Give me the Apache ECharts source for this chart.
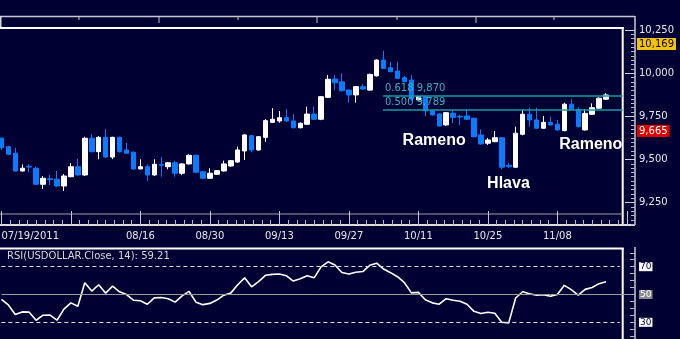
<!DOCTYPE html>
<html><head><meta charset="utf-8">
<script src="https://cdn.jsdelivr.net/npm/echarts@6/dist/echarts.min.js"></script>
<style>html,body{margin:0;padding:0;background:#000033;}#c{width:680px;height:339px;}</style>
</head><body><div id="c"></div>
<script>
// ---- data ----
const dates = [
'07/19/2011','07/20/2011','07/21/2011','07/22/2011','07/25/2011','07/26/2011','07/27/2011','07/28/2011','07/29/2011',
'08/01/2011','08/02/2011','08/03/2011','08/04/2011','08/05/2011','08/08/2011','08/09/2011','08/10/2011','08/11/2011','08/12/2011',
'08/15/2011','08/16/2011','08/17/2011','08/18/2011','08/19/2011','08/22/2011','08/23/2011','08/24/2011','08/25/2011','08/26/2011',
'08/29/2011','08/30/2011','08/31/2011',
'09/01/2011','09/02/2011','09/05/2011','09/06/2011','09/07/2011','09/08/2011','09/09/2011','09/12/2011','09/13/2011','09/14/2011',
'09/15/2011','09/16/2011','09/19/2011','09/20/2011','09/21/2011','09/22/2011','09/23/2011','09/26/2011','09/27/2011','09/28/2011',
'09/29/2011','09/30/2011',
'10/03/2011','10/04/2011','10/05/2011','10/06/2011','10/07/2011','10/10/2011','10/11/2011','10/12/2011','10/13/2011','10/14/2011',
'10/17/2011','10/18/2011','10/19/2011','10/20/2011','10/21/2011','10/24/2011','10/25/2011','10/26/2011','10/27/2011','10/28/2011',
'10/31/2011',
'11/01/2011','11/02/2011','11/03/2011','11/04/2011','11/07/2011','11/08/2011','11/09/2011','11/10/2011','11/11/2011','11/14/2011',
'11/15/2011','11/16/2011','11/17/2011'];
const open = [9623,9574,9536,9433,9460,9449,9356,9388,9385,9346, 9400,9458,9410,9623,9545,9628,9514,9628,9555,9542,
 9445,9458,9410,9470,9458,9481,9420,9474,9524,9429, 9391,9414,9433,9462,9485,9549,9638,9555,9628,9715,
 9723,9742,9723,9684,9704,9763,9733,9860,9966,9950, 9902,9874,9922,9902,9985,10076,10032,10013,9974,9960,
 9845,9864,9783,9764,9700,9768,9750,9752,9739,9642, 9594,9603,9626,9466,9455,9646,9762,9729,9681,9715,
 9704,9667,9820,9791,9671,9762,9797,9849];
const close = [9568,9530,9433,9449,9456,9356,9391,9383,9346,9404, 9458,9410,9623,9545,9628,9514,9628,9545,9536,9445,
 9458,9410,9472,9466,9481,9420,9474,9524,9426,9391, 9420,9435,9474,9493,9555,9642,9555,9632,9725,9733,
 9742,9723,9684,9710,9763,9733,9864,9965,9945,9898, 9874,9922,9908,9993,10076,10028,10009,9970,9951,9850,
 9864,9781,9758,9694,9771,9744,9746,9733,9632,9590, 9613,9626,9455,9458,9652,9762,9729,9681,9715,9700,
 9671,9820,9791,9690,9767,9800,9855,9874];
const low = [9555,9525,9428,9430,9426,9352,9329,9352,9342,9317, 9396,9406,9404,9541,9501,9510,9502,9540,9532,9440,
 9442,9375,9406,9400,9443,9400,9410,9470,9420,9386, 9388,9410,9430,9458,9481,9497,9542,9550,9603,9712,
 9713,9719,9680,9680,9700,9728,9728,9856,9902,9894, 9829,9829,9904,9898,9980,10024,10005,9966,9947,9840,
 9840,9752,9754,9690,9695,9710,9700,9729,9628,9586, 9584,9600,9443,9452,9450,9640,9690,9677,9677,9696,
 9667,9663,9787,9686,9667,9758,9793,9845];
const high = [9628,9580,9568,9472,9472,9458,9404,9410,9433,9416, 9478,9503,9632,9646,9636,9675,9632,9632,9597,9546,
 9501,9472,9501,9515,9485,9493,9478,9532,9528,9432, 9449,9438,9493,9497,9574,9648,9642,9636,9734,9797,
 9781,9792,9764,9714,9806,9806,9868,9990,9990,9999, 9906,9926,9937,9997,10080,10130,10066,10066,9984,9989,
 9868,9868,9787,9768,9775,9787,9758,9791,9742,9675, 9624,9665,9630,9480,9690,9792,9800,9800,9752,9748,
 9729,9829,9850,9802,9791,9825,9860,9884];
const rsi = [46.5,42.5,35.6,37.5,37.3,31.5,35.1,35.2,31.5,39.5, 44,41.5,58.4,52.5,57,51,56,51.9,50,45.9,
 45.5,43,47.6,47.9,47,44.5,49,52.2,44.5,42.7, 43.6,46,49.5,51,57,62,55.5,59.3,63.8,64.5,
 64.7,63.5,59.7,61.3,63.5,62,69.9,73.5,71.2,65.8, 64.8,66,66.5,71,72.5,68.3,65.7,62.8,58.5,51.2,
 51.5,46.2,44,43,47,45.9,45.1,43,37.9,36.4, 37.2,36.5,30,29.6,47.5,52,50.5,49.5,49.8,48.8,
 50,56.6,53.5,49.5,53.7,55,57.8,59.21];
const dateLabelIdx = [0,20,30,40,50,60,70,80];
const priceTicks = [9250,9500,9750,10000,10250];
const resistance = 10169;
const neckline = 9665;
const fibLevels = [[0.618, 9870],[0.500, 9789]];
const fibStartIdx = 54.9;
const rsiTicks = [30,50,70];
const annotations = [['Rameno',62.27,9608],['Hlava',72.96,9362],['Rameno',84.8,9588]];

// ---- chart ----
const fmt = v => String(v).replace(/\B(?=(\d{3})+(?!\d))/g, ',');
const candleData = dates.map((d,i)=>[i, open[i], close[i], low[i], high[i]]);
const rsiData = rsi.map((v,i)=>[i, v]);
const minorPrice = [];
for (let v = 9125; v <= 10250; v += 25) if (priceTicks.indexOf(v) < 0) minorPrice.push(v);
const rsiMinor = [];
for (let v = 20; v <= 80; v += 5) rsiMinor.push(v);
const X0 = -0.2, X1 = 89.4;

const strip = [];
[[79,4],[159,7],[238,4],[317,7],[397,4],[476,7],[554,4]].forEach(t=>{
  strip.push({type:'line', silent:true, shape:{x1:t[0],y1:16,x2:t[0],y2:16+t[1]}, style:{stroke:'#c8c8d0',lineWidth:1}});
});
const L = (x1,y1,x2,y2,c,w)=>({type:'line',silent:true,shape:{x1,y1,x2,y2},style:{stroke:c,lineWidth:w}});

const chart = echarts.init(document.getElementById('c'), null, {renderer:'canvas'});
chart.setOption({
  animation:false,
  backgroundColor:'#000033',
  textStyle:{fontFamily:'DejaVu Sans'},
  title:{text:'RSI(USDOLLAR.Close, 14): 59.21', left:7, top:251, padding:0,
    textStyle:{fontSize:10, fontWeight:'normal', color:'#d8d8d8', fontFamily:'DejaVu Sans'}},
  graphic: strip.concat([
    L(0,16.5,635,16.5,'#c8c8d0',1.5),
    L(0.75,16,0.75,28,'#d8d8d8',1.5),
    L(0,28,623.7,28,'#ffffff',2),
    L(622.7,27,622.7,225,'#ffffff',2),
    L(0,214,622.7,214,'#a0a0a8',1),
    L(0,225,635,225,'#dcdcdc',2),
    L(635,16,635,225,'#c8c8d0',1.5),
    L(0,248.5,623.7,248.5,'#ffffff',2),
    L(622.7,248,622.7,339,'#ffffff',2),
    L(635,247,635,339,'#c8c8d0',1.5)
  ]),
  grid:[
    {left:1.4, top:28, width:625.5, height:197, outerBoundsMode:'none', containLabel:false},
    {left:0, top:248, width:633.8, height:91, outerBoundsMode:'none', containLabel:false}
  ],
  xAxis:[
    {gridIndex:0, type:'value', min:0, max:90, interval:10,
      axisLine:{show:false, onZero:false}, splitLine:{show:false},
      axisTick:{show:true, inside:true, length:14, lineStyle:{color:'#c8c8c8', width:1}},
      minorTick:{show:true, splitNumber:8, length:5, lineStyle:{color:'#b8b8b8', width:1}},
      minorSplitLine:{show:false},
      axisLabel:{customValues:dateLabelIdx, alignMinLabel:'left', margin:6, color:'#e8e8e8', fontSize:10,
        formatter:v=>{const d=dates[Math.round(v)]; if(!d) return ''; return Math.round(v)===0 ? d : d.slice(0,5);}}
    },
    {gridIndex:1, type:'value', min:-0.2, max:91, show:false, axisLine:{onZero:false}}
  ],
  yAxis:[
    {gridIndex:0, type:'value', position:'right', offset:8.1, min:9120, max:10262,
      axisLine:{show:false, onZero:false}, splitLine:{show:false},
      axisTick:{show:true, inside:true, length:10, customValues:priceTicks, lineStyle:{color:'#d0d0d8', width:1}},
      axisLabel:{customValues:priceTicks.concat([neckline, resistance]), margin:2, fontSize:10,
        formatter:v=>{const s=fmt(v); if(v===resistance) return '{o|'+s+'}'; if(v===neckline) return '{r|'+s+'}'; return '{n|'+s+'}';},
        rich:{
          n:{color:'#e6e6e6', fontSize:10, padding:[1,2]},
          o:{color:'#000033', backgroundColor:'#f5c400', fontSize:10, padding:[1,2]},
          r:{color:'#ffffff', backgroundColor:'#e00000', fontSize:10, padding:[1,2]}
        }}
    },
    {gridIndex:0, type:'value', position:'right', offset:8.1, min:9120, max:10262,
      axisLine:{show:false, onZero:false}, splitLine:{show:false}, axisLabel:{show:false},
      axisTick:{show:true, inside:true, length:4, customValues:minorPrice, lineStyle:{color:'#b8b8c0', width:1}}
    },
    {gridIndex:1, type:'value', position:'right', offset:1.2, min:18, max:83.45,
      axisLine:{show:false, onZero:false}, splitLine:{show:false},
      axisTick:{show:true, inside:true, length:5, customValues:rsiMinor, lineStyle:{color:'#b8b8c0'}},
      axisLabel:{customValues:rsiTicks, margin:4, fontSize:9,
        formatter:v=> v===50 ? '{m|'+v+'}' : '{w|'+v+'}',
        rich:{
          w:{color:'#000033', backgroundColor:'#ffffff', fontSize:9, padding:[0,1], lineHeight:9},
          m:{color:'#ffffff', backgroundColor:'#8c8c8c', fontSize:9, padding:[0,1], lineHeight:9}
        }}
    }
  ],
  series:[
    {type:'candlestick', xAxisIndex:0, yAxisIndex:0, data:candleData, encode:{x:0, y:[1,2,3,4]},
      barWidth:5, clip:false,
      itemStyle:{color:'#ffffff', color0:'#0a7cff', borderColor:'#ffffff', borderColor0:'#0a7cff', borderWidth:1},
      markLine:{silent:true, symbol:['none','none'], animation:false, label:{show:false},
        data:[
          [{coord:[X0,resistance], lineStyle:{color:'#e3a000', width:1.5, type:'solid'}}, {coord:[X1,resistance]}],
          [{coord:[X0,neckline], lineStyle:{color:'#c80000', width:2, type:'solid'}}, {coord:[X1,neckline]}]
        ].concat(fibLevels.map(f=>[
          {coord:[fibStartIdx,f[1]], lineStyle:{color:'#1a9aa4', width:1.5, type:'solid'},
           label:{show:true, position:'insideStartTop', distance:2, formatter:f[0].toFixed(3)+' '+fmt(f[1]),
             color:'#3fb0bb', fontSize:10, fontFamily:'DejaVu Sans'}},
          {coord:[X1,f[1]]}
        ]))
      },
      markPoint:{silent:true, animation:false, symbol:'circle', symbolSize:1,
        itemStyle:{color:'rgba(0,0,0,0)'},
        label:{show:true, position:'inside', formatter:'{b}', color:'#ffffff', fontSize:16, fontWeight:'bold', fontFamily:'Liberation Sans'},
        data:annotations.map(a=>({name:a[0], coord:[a[1], a[2]]}))
      }
    },
    {type:'line', xAxisIndex:1, yAxisIndex:2, data:rsiData, showSymbol:false, clip:false,
      lineStyle:{color:'#ffffff', width:1.6}, itemStyle:{color:'#ffffff'},
      markLine:{silent:true, symbol:['none','none'], animation:false, label:{show:false},
        data:[
          [{coord:[0,70], lineStyle:{color:'#e0e0e0', width:1, type:[4,3]}}, {coord:[89.0,70]}],
          [{coord:[0,30], lineStyle:{color:'#e0e0e0', width:1, type:[4,3]}}, {coord:[89.0,30]}],
          [{coord:[0,50], lineStyle:{color:'#9a9a9a', width:1, type:'solid'}}, {coord:[90.8,50]}]
        ]}
    }
  ]
});
</script></body></html>
